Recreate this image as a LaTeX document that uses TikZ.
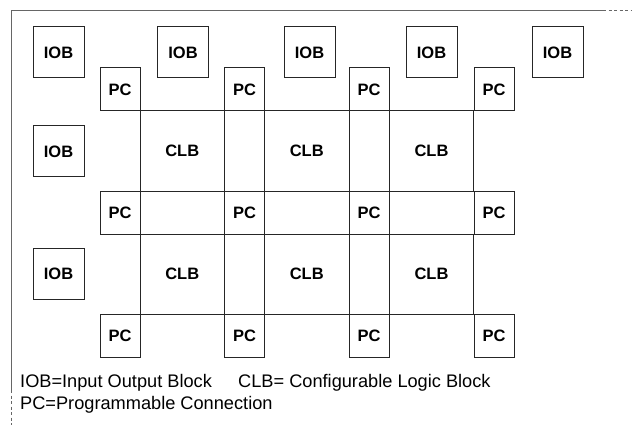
\documentclass[tikz,border=0pt]{standalone}
\usepackage{fontspec}
\setmainfont{Liberation Sans}
\begin{document}
\begin{tikzpicture}[x=1pt,y=-1pt,
  blk/.style={draw=black!85, line width=1pt, inner sep=0pt, font=\bfseries\fontsize{16.5}{16.5}\selectfont},
  iob/.style={blk, minimum width=51pt, minimum height=51pt},
  pc/.style={blk, minimum width=40pt, minimum height=43pt},
  clb/.style={blk, minimum width=84.5pt, minimum height=80pt},
  legend/.style={anchor=base west, inner sep=0pt, font=\fontsize{18.2}{18.2}\selectfont},
  frame/.style={draw=black!60, line width=1pt},
  framedash/.style={frame, dash pattern=on 3pt off 2.5pt}]
\useasboundingbox (0,0) rectangle (632,425);
% frame
\coordinate (fcorner) at (11,11);
\coordinate (fts) at (603,11);
\coordinate (ftr) at (632,11);
\coordinate (fls) at (11,390);
\coordinate (fbl) at (11,425);
\draw[frame] (fls) -- (fcorner) -- (fts);
\draw[framedash] (fts) -- (ftr);
\draw[framedash] (fls) -- (fbl);
% CLBs
\node[clb] (clb1) at (182.25,151) {CLB};
\node[clb] (clb2) at (306.75,151) {CLB};
\node[clb] (clb3) at (431.5,151) {CLB};
\node[clb] (clb4) at (182.25,274) {CLB};
\node[clb] (clb5) at (306.75,274) {CLB};
\node[clb] (clb6) at (431.5,274) {CLB};
% PCs
\foreach \c/\x in {1/120,2/244.5,3/369,4/494}{
  \foreach \r/\y in {1/89.5,2/212.5,3/336}{
    \node[pc] (pc\r\c) at (\x,\y) {PC};
  }
}
% IOBs
\node[iob] (iob1) at (58.5,52.5) {IOB};
\node[iob] (iob2) at (183,52.5) {IOB};
\node[iob] (iob3) at (309.5,52.5) {IOB};
\node[iob] (iob4) at (431.5,52.5) {IOB};
\node[iob] (iob5) at (557.5,52.5) {IOB};
\node[iob] (iob6) at (58.5,151.5) {IOB};
\node[iob] (iob7) at (58.5,274) {IOB};
% legend
\node[legend] (leg1) at (20,387) {IOB=Input Output Block};
\node[legend] (leg2) at (238,387) {CLB= Configurable Logic Block};
\node[legend] (leg3) at (20,409) {PC=Programmable Connection};
\end{tikzpicture}
\end{document}
